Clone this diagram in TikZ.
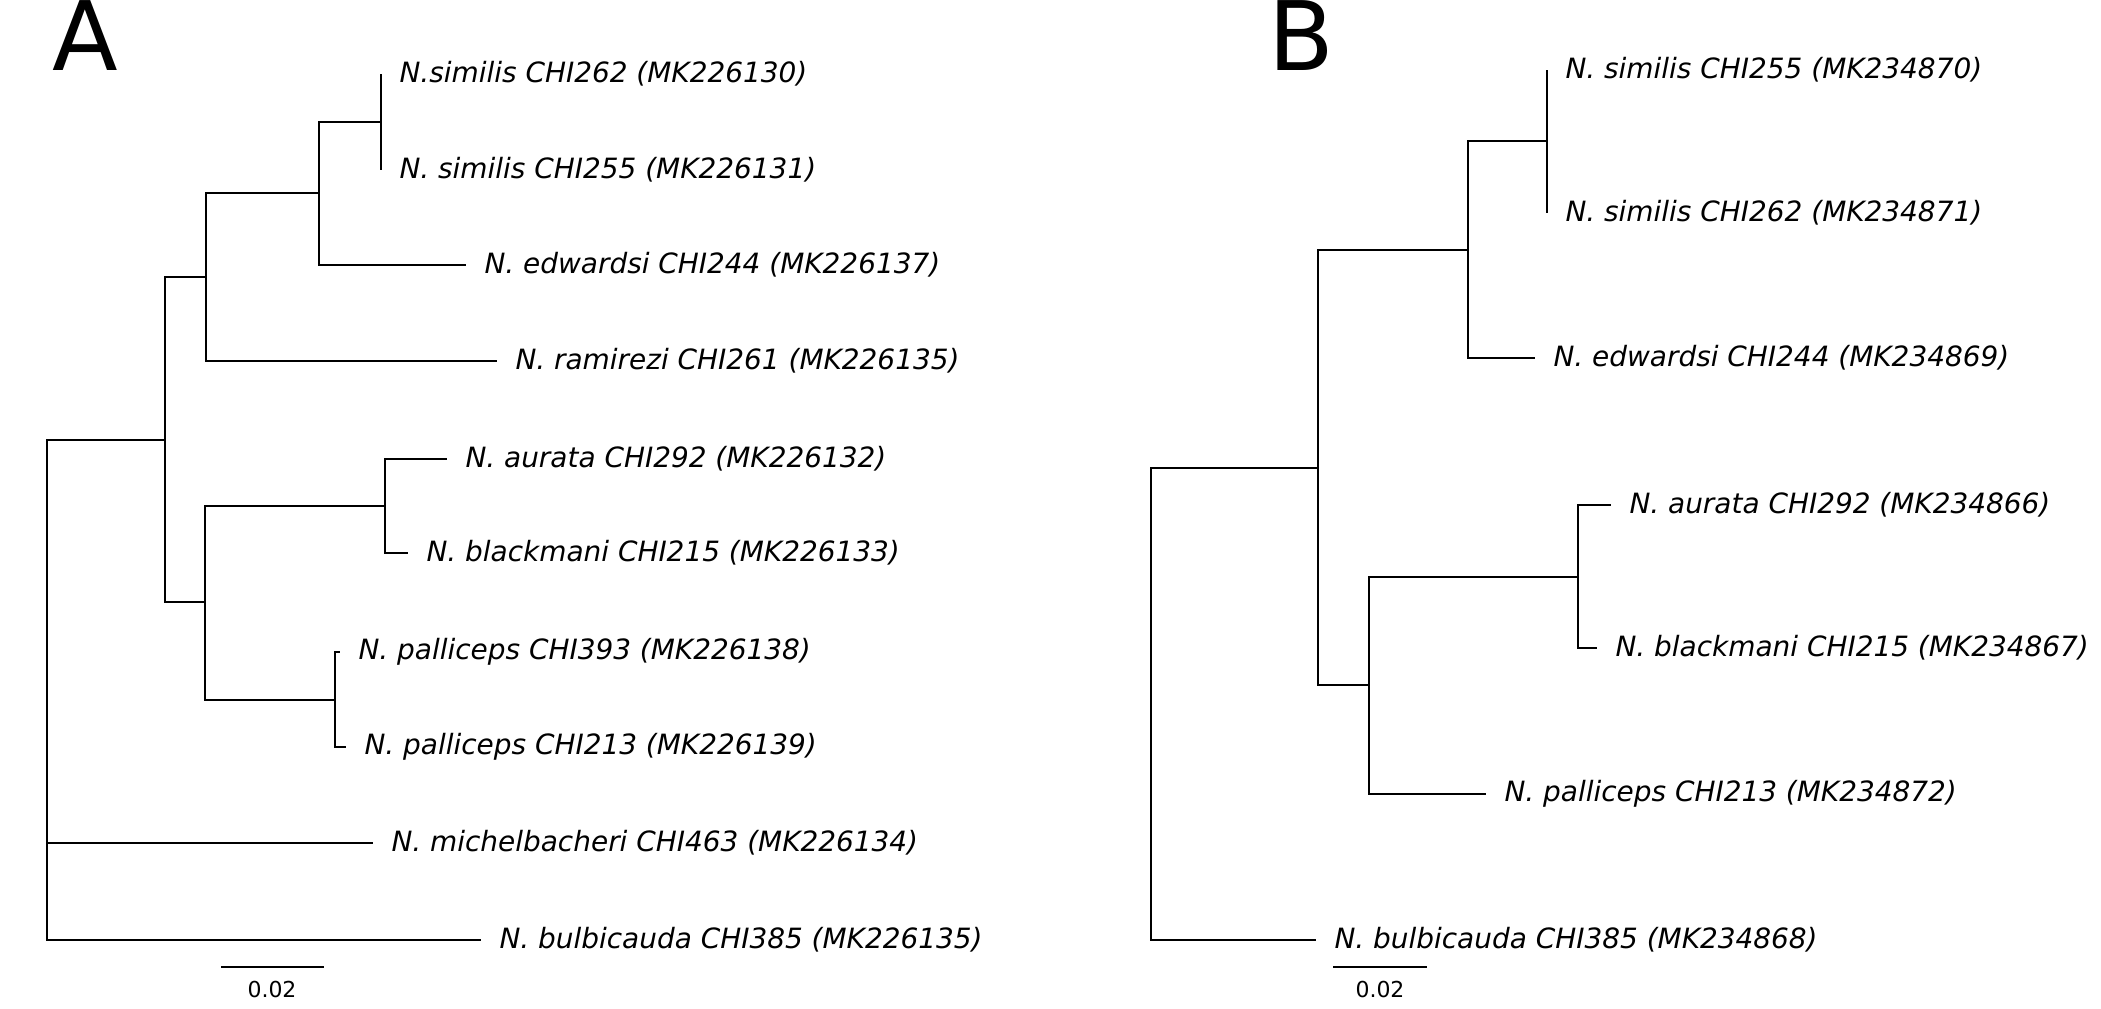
\documentclass[tikz,border=0pt]{standalone}
\usepackage{fontspec}
\setmainfont{DejaVu Sans}
\begin{document}
\begin{tikzpicture}[x=0.02cm, y=-0.02cm, line width=0.04cm,
    every node/.style={font=\fontsize{15.9}{18}\selectfont\itshape},
    taxon/.style={anchor=west, inner xsep=0pt, outer xsep=0.37cm},
    panel/.style={anchor=base west, inner sep=0pt, font=\fontsize{54.6}{60}\selectfont},
    barlabel/.style={font=\fontsize{12.5}{14}\selectfont}]
  \useasboundingbox (0,0) rectangle (2101,1008);
  % tree A
  \node[panel] (labA) at (52,70) {A};
  \node[taxon] (a1) at (381,74) {N.similis CHI262 (MK226130)};
  \node[taxon] (a2) at (381,170) {N. similis CHI255 (MK226131)};
  \node[taxon] (a3) at (466,265) {N. edwardsi CHI244 (MK226137)};
  \node[taxon] (a4) at (497,361) {N. ramirezi CHI261 (MK226135)};
  \node[taxon] (a5) at (447,459) {N. aurata CHI292 (MK226132)};
  \node[taxon] (a6) at (408,553) {N. blackmani CHI215 (MK226133)};
  \node[taxon] (a7) at (340,652) {N. palliceps CHI393 (MK226138)};
  \node[taxon] (a8) at (346,747) {N. palliceps CHI213 (MK226139)};
  \node[taxon] (a9) at (373,843) {N. michelbacheri CHI463 (MK226134)};
  \node[taxon] (a10) at (481,940) {N. bulbicauda CHI385 (MK226135)};
  \coordinate (nA1) at (381,122);
  \coordinate (nA2) at (319,193);
  \coordinate (nA3) at (206,277);
  \coordinate (nA4) at (385,506);
  \coordinate (nA5) at (335,700);
  \coordinate (nA6) at (205,602);
  \coordinate (nA7) at (165,440);
  \coordinate (rA) at (47,690);
  \draw (nA1) |- (a1) (nA1) |- (a2);
  \draw (nA2) |- (nA1) (nA2) |- (a3);
  \draw (nA3) |- (nA2) (nA3) |- (a4);
  \draw (nA4) |- (a5) (nA4) |- (a6);
  \draw (nA5) |- (a7) (nA5) |- (a8);
  \draw (nA6) |- (nA4) (nA6) |- (nA5);
  \draw (nA7) |- (nA3) (nA7) |- (nA6);
  \draw (rA) |- (nA7) (rA) |- (a9) (rA) |- (a10);
  \coordinate (sA1) at (221,967);
  \coordinate (sA2) at (324,967);
  \draw (sA1) -- (sA2);
  \node[barlabel] (sA) at (272,989) {0.02};
  % tree B
  \node[panel] (labB) at (1267,70) {B};
  \node[taxon] (b1) at (1547,70) {N. similis CHI255 (MK234870)};
  \node[taxon] (b2) at (1547,213) {N. similis CHI262 (MK234871)};
  \node[taxon] (b3) at (1535,358) {N. edwardsi CHI244 (MK234869)};
  \node[taxon] (b4) at (1611,505) {N. aurata CHI292 (MK234866)};
  \node[taxon] (b5) at (1597,648) {N. blackmani CHI215 (MK234867)};
  \node[taxon] (b6) at (1486,794) {N. palliceps CHI213 (MK234872)};
  \node[taxon] (b7) at (1316,940) {N. bulbicauda CHI385 (MK234868)};
  \coordinate (nB1) at (1547,141);
  \coordinate (nB2) at (1468,250);
  \coordinate (nB3) at (1578,577);
  \coordinate (nB4) at (1369,685);
  \coordinate (nB5) at (1318,468);
  \coordinate (rB) at (1151,704);
  \draw (nB1) |- (b1) (nB1) |- (b2);
  \draw (nB2) |- (nB1) (nB2) |- (b3);
  \draw (nB3) |- (b4) (nB3) |- (b5);
  \draw (nB4) |- (nB3) (nB4) |- (b6);
  \draw (nB5) |- (nB2) (nB5) |- (nB4);
  \draw (rB) |- (nB5) (rB) |- (b7);
  \coordinate (sB1) at (1333,967);
  \coordinate (sB2) at (1427,967);
  \draw (sB1) -- (sB2);
  \node[barlabel] (sB) at (1380,989) {0.02};
\end{tikzpicture}
\end{document}
